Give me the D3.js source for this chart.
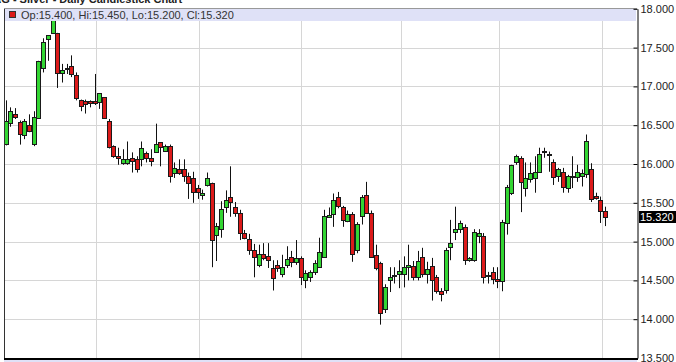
<!DOCTYPE html>
<html>
<head>
<meta charset="utf-8">
<script src="https://cdnjs.cloudflare.com/ajax/libs/d3/7.8.5/d3.min.js"></script>
<style>
body { margin: 0; background: #fff; }
svg { display: block; font-family: "Liberation Sans", Arial, sans-serif; }
</style>
</head>
<body>
<div id="chart"></div>
<script>
// daily OHLC, oldest first
var opens = [16.26,16.52,16.65,16.54,16.37,16.50,16.26,16.60,17.24,17.61,
  17.68,17.69,17.17,17.24,17.26,17.15,16.82,16.81,16.81,16.81,
  16.80,16.86,16.55,16.23,16.10,16.02,16.01,16.08,16.07,16.06,
  16.14,16.08,16.16,16.28,16.17,16.23,15.89,15.94,15.93,15.85,
  15.82,15.69,15.60,15.73,15.75,15.09,15.16,15.45,15.58,15.45,
  15.37,15.11,15.03,14.89,14.70,14.84,14.81,14.66,14.70,14.58,
  14.70,14.80,14.74,14.79,14.50,14.54,14.61,14.68,14.80,15.32,
  15.36,15.57,15.44,15.27,15.36,14.90,15.32,15.60,15.37,14.83,
  14.72,14.14,14.50,14.57,14.58,14.58,14.67,14.68,14.54,14.80,
  14.59,14.68,14.54,14.36,14.37,14.93,15.12,15.16,15.19,14.76,
  14.76,15.07,15.07,14.57,14.61,14.52,14.49,15.25,15.63,16.02,
  16.08,15.69,15.80,15.82,15.90,16.16,16.13,16.03,15.84,15.90,
  15.69,15.84,15.84,15.84,15.88,15.94,15.59,15.54,15.40];
var highs = [16.82,16.73,16.72,16.56,16.58,16.64,16.68,17.33,17.62,17.66,
  17.87,17.69,17.29,17.29,17.40,17.18,16.83,16.83,16.82,17.16,
  16.91,16.86,16.58,16.24,16.21,16.19,16.29,16.15,16.10,16.29,
  16.16,16.19,16.52,16.28,16.25,16.25,16.02,16.06,16.06,15.89,
  15.90,15.73,15.67,15.89,15.76,15.24,15.52,15.66,15.97,15.51,
  15.41,15.15,15.10,14.97,14.96,14.98,14.98,14.76,14.76,14.83,
  14.94,14.88,15.02,14.81,14.63,14.63,14.76,15.05,15.41,15.44,
  15.62,15.64,15.46,15.40,15.38,15.25,15.60,15.77,15.40,14.96,
  14.74,14.45,14.67,14.67,14.76,14.81,14.96,14.75,14.88,14.92,
  14.74,14.79,14.57,14.40,14.92,15.28,15.45,15.27,15.22,14.80,
  15.16,15.16,15.11,14.61,14.67,14.67,15.28,15.73,15.99,16.12,
  16.10,16.02,16.02,16.10,16.21,16.21,16.16,16.06,15.95,15.95,
  15.86,16.10,15.99,15.93,16.38,16.01,15.63,15.58,15.45];
var lows = [16.24,16.48,16.58,16.25,16.32,16.41,16.23,16.59,17.18,17.33,
  17.68,16.98,17.05,17.16,17.12,16.82,16.68,16.65,16.73,16.76,
  16.71,16.58,16.20,16.08,15.99,15.99,15.99,15.89,15.89,15.97,
  16.02,15.97,16.15,15.97,16.16,15.76,15.82,15.86,15.77,15.55,
  15.50,15.55,15.54,15.71,14.67,14.75,15.05,15.37,15.32,15.32,
  15.02,15.03,14.83,14.54,14.67,14.76,14.66,14.37,14.61,14.54,
  14.66,14.67,14.70,14.44,14.40,14.48,14.57,14.67,14.79,15.31,
  15.19,15.43,15.19,15.25,14.74,14.85,15.22,15.36,14.79,14.63,
  13.93,14.08,14.35,14.46,14.40,14.41,14.50,14.50,14.50,14.54,
  14.46,14.24,14.33,14.23,14.33,14.76,15.02,15.11,14.70,14.74,
  14.74,14.98,14.46,14.46,14.45,14.40,14.36,15.09,15.60,15.99,
  15.38,15.58,15.76,15.63,15.90,16.08,15.90,15.73,15.77,15.63,
  15.63,15.69,15.77,15.71,15.82,15.51,15.54,15.24,15.20];
var closes = [16.55,16.68,16.61,16.39,16.55,16.42,16.61,17.33,17.57,17.66,
  17.85,17.17,17.21,17.23,17.16,16.85,16.74,16.77,16.78,16.78,
  16.91,16.59,16.21,16.10,16.07,16.07,16.06,16.04,15.94,16.20,
  16.08,16.04,16.26,16.21,16.23,15.84,15.95,15.89,15.84,15.76,
  15.64,15.64,15.63,15.82,15.02,15.20,15.42,15.54,15.51,15.37,
  15.11,15.05,14.89,14.80,14.84,14.79,14.76,14.53,14.66,14.67,
  14.78,14.74,14.79,14.55,14.59,14.61,14.72,14.87,15.33,15.34,
  15.54,15.45,15.27,15.36,14.84,15.23,15.57,15.37,14.80,14.66,
  14.08,14.42,14.54,14.56,14.62,14.67,14.70,14.54,14.75,14.58,
  14.65,14.50,14.36,14.32,14.89,14.98,15.16,15.24,14.76,14.79,
  15.12,15.11,14.54,14.56,14.52,14.50,15.25,15.71,15.99,16.10,
  15.77,15.82,15.88,15.90,16.13,16.17,16.12,15.84,15.93,15.71,
  15.84,15.83,15.90,15.88,16.30,15.55,15.57,15.40,15.32];

var priceTicks = [13.5, 14, 14.5, 15, 15.5, 16, 16.5, 17, 17.5, 18];
// vertical grid lines (month starts), in bar positions
var monthLines = [19.2, 41.2, 63.1, 84.4, 105.3, 127.4];

var width = 676, height = 362;
var plotLeft = 4, plotRight = 637, plotTop = 8, plotBottom = 358;
var green = "#33d633", red = "#dc1a1a";

var svg = d3.select("#chart")
    .append("svg")
    .attr("width", width)
    .attr("height", height);

var x = d3.scaleLinear().domain([0, opens.length - 1]).range([5.7, 605]);
var y = d3.scaleLinear().domain([13.5, 18]).range([plotBottom, 8.8]);

// title, mostly cut off by the top of the picture
svg.append("text")
    .attr("x", -14)
    .attr("y", 3)
    .attr("font-size", "11px")
    .attr("font-weight", "bold")
    .attr("fill", "#222")
    .text("XAG - Silver - Daily Candlestick Chart");

// grid
svg.selectAll(".hgrid")
    .data(priceTicks)
    .enter()
    .append("line")
    .attr("x1", plotLeft).attr("x2", plotRight)
    .attr("y1", function (d) { return Math.round(y(d)) + 0.5; })
    .attr("y2", function (d) { return Math.round(y(d)) + 0.5; })
    .attr("stroke", "#d6d6d6");

svg.selectAll(".vgrid")
    .data(monthLines)
    .enter()
    .append("line")
    .attr("x1", function (d) { return Math.round(x(d)) + 0.5; })
    .attr("x2", function (d) { return Math.round(x(d)) + 0.5; })
    .attr("y1", plotTop).attr("y2", plotBottom)
    .attr("stroke", "#d6d6d6");

// candles
var bars = d3.range(opens.length);

svg.selectAll(".wick")
    .data(bars)
    .enter()
    .append("line")
    .attr("x1", function (i) { return Math.round(x(i)) + 0.5; })
    .attr("x2", function (i) { return Math.round(x(i)) + 0.5; })
    .attr("y1", function (i) { return y(highs[i]); })
    .attr("y2", function (i) { return y(lows[i]); })
    .attr("stroke", "#111")
    .attr("stroke-width", 1);

svg.selectAll(".body")
    .data(bars)
    .enter()
    .append("rect")
    .attr("x", function (i) { return Math.round(x(i)) - 1.5; })
    .attr("width", 4)
    .attr("y", function (i) { return Math.round(y(Math.max(opens[i], closes[i]))) + 0.5; })
    .attr("height", function (i) {
        return Math.max(1, Math.round(Math.abs(y(opens[i]) - y(closes[i]))));
    })
    .attr("fill", function (i) { return closes[i] >= opens[i] ? green : red; })
    .attr("stroke", "#1a1a1a")
    .attr("stroke-width", 1);

// info bar
svg.append("rect")
    .attr("x", plotLeft).attr("y", plotTop)
    .attr("width", plotRight - plotLeft - 1).attr("height", 13)
    .attr("fill", "#dfe1f7");

svg.append("rect")
    .attr("x", 9.5).attr("y", 11.5)
    .attr("width", 6).attr("height", 6)
    .attr("fill", red).attr("stroke", "#333");

var last = opens.length - 1;
var fmt = d3.format(".3f");
svg.append("text")
    .attr("x", 21).attr("y", 18.5)
    .attr("font-size", "11px")
    .attr("fill", "#333")
    .text("Op:" + fmt(opens[last]) + ", Hi:" + fmt(highs[last]) +
          ", Lo:" + fmt(lows[last]) + ", Cl:" + fmt(closes[last]));

// frame
svg.append("line")
    .attr("x1", plotLeft + 0.5).attr("x2", plotLeft + 0.5)
    .attr("y1", plotTop).attr("y2", plotBottom)
    .attr("stroke", "#333");
svg.append("line")
    .attr("x1", plotLeft).attr("x2", plotRight)
    .attr("y1", plotTop + 0.5).attr("y2", plotTop + 0.5)
    .attr("stroke", "#999");
svg.append("rect")
    .attr("x", plotLeft).attr("y", plotBottom + 2)
    .attr("width", plotRight - plotLeft).attr("height", 4)
    .attr("fill", "#dfe1f7");
svg.append("line")
    .attr("x1", plotLeft).attr("x2", plotRight + 1)
    .attr("y1", plotBottom + 1).attr("y2", plotBottom + 1)
    .attr("stroke", "#000")
    .attr("stroke-width", 2);

// price axis
var axis = svg.append("g")
    .attr("transform", "translate(" + (plotRight + 0.5) + ",0)")
    .call(d3.axisRight(y)
        .tickValues(priceTicks)
        .tickFormat(fmt)
        .tickSizeInner(-4)
        .tickSizeOuter(0)
        .tickPadding(3));
axis.selectAll("text")
    .attr("font-size", "11px")
    .attr("font-family", "\"Liberation Sans\", Arial, sans-serif")
    .attr("fill", "#222");
axis.selectAll("line").attr("stroke", "#000");
axis.select(".domain").attr("stroke", "#000");

// last price marker
var lastY = Math.round(y(closes[last]));
svg.append("rect")
    .attr("x", plotRight + 2).attr("y", lastY - 6)
    .attr("width", 37).attr("height", 12)
    .attr("fill", "#000");
svg.append("text")
    .attr("x", plotRight + 3).attr("y", lastY + 4)
    .attr("font-size", "11px")
    .attr("fill", "#fff")
    .text(fmt(closes[last]));
</script>
</body>
</html>
